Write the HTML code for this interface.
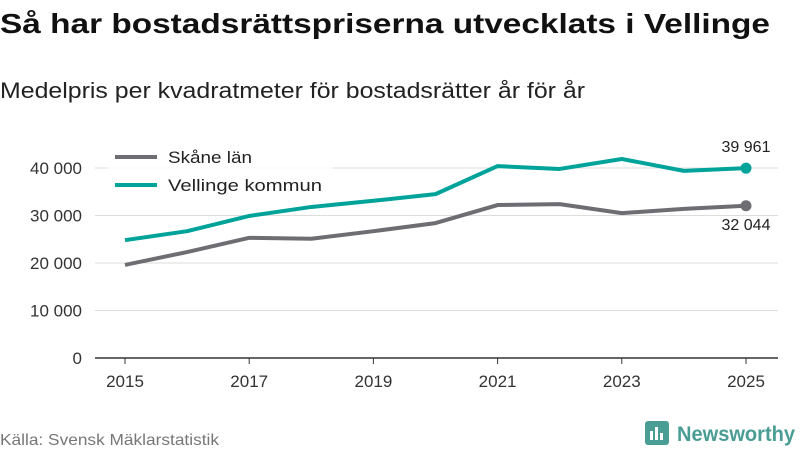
<!DOCTYPE html>
<html><head><meta charset="utf-8"><style>
body{margin:0;width:800px;height:450px;background:#fff;font-family:"Liberation Sans",sans-serif;overflow:hidden}
</style></head><body>
<svg width="800" height="450" xmlns="http://www.w3.org/2000/svg">
<text x="0" y="33" font-size="28" font-weight="bold" fill="#111" textLength="770" lengthAdjust="spacingAndGlyphs">Så har bostadsrättspriserna utvecklats i Vellinge</text>
<text x="0" y="98" font-size="22" fill="#222" textLength="585" lengthAdjust="spacingAndGlyphs">Medelpris per kvadratmeter för bostadsrätter år för år</text>
<g id="grid"></g><g id="lines"></g>
<g>
<rect x="108" y="143" width="225" height="56" fill="#fff" opacity="0.85"/>
<line x1="115" y1="157" x2="157" y2="157" stroke="#6e6d73" stroke-width="4"/>
<text x="168" y="163" font-size="17" fill="#222" textLength="84" lengthAdjust="spacingAndGlyphs">Skåne län</text>
<line x1="115" y1="185" x2="157" y2="185" stroke="#00a39a" stroke-width="4"/>
<text x="168" y="191" font-size="17" fill="#222" textLength="154" lengthAdjust="spacingAndGlyphs">Vellinge kommun</text>
</g>
<text x="0" y="445" font-size="16" fill="#777" textLength="219" lengthAdjust="spacingAndGlyphs">Källa: Svensk Mäklarstatistik</text>
<g>
<rect x="645" y="421" width="24" height="24" rx="3" fill="#4a9d94"/>
<rect x="650" y="431" width="3" height="9" fill="#fff"/><rect x="655" y="427" width="3" height="13" fill="#fff"/><rect x="660" y="433" width="3" height="7" fill="#fff"/>
<text x="677" y="441" font-size="21" font-weight="bold" fill="#4a9d94" textLength="118" lengthAdjust="spacingAndGlyphs">Newsworthy</text>
</g>
</svg>
<script>
const years=[2015,2016,2017,2018,2019,2020,2021,2022,2023,2024,2025];
const skane=[19600,22300,25300,25100,26700,28400,32200,32400,30500,31400,32044];
const vellinge=[24800,26700,29900,31800,33100,34500,40400,39800,41900,39400,39961];
const yTicks=[0,10000,20000,30000,40000];
const xTicks=[2015,2017,2019,2021,2023,2025];
const NS="http://www.w3.org/2000/svg";
const x=v=>125+(v-2015)*62.1;
const y=v=>358-v*0.00475;
const fmt=v=>v.toLocaleString('en-US').replace(/,/g,' ');
function mk(t,a,p){const e=document.createElementNS(NS,t);for(const k in a)e.setAttribute(k,a[k]);p.appendChild(e);return e;}
const grid=document.getElementById('grid'),lines=document.getElementById('lines');
yTicks.forEach(v=>{
const l=mk('line',{x1:95,x2:778,y1:y(v),y2:y(v),stroke:v===0?'#333':'#ddd','stroke-width':v===0?1.5:1},grid);


const t=mk('text',{x:82,y:y(v)+6,'text-anchor':'end','font-size':17,fill:'#333'},grid);t.textContent=fmt(v);


});
xTicks.forEach(v=>{
const l=mk('line',{x1:x(v),x2:x(v),y1:358,y2:364,stroke:'#333'},grid);


const t=mk('text',{x:x(v),y:387,'text-anchor':'middle','font-size':17,fill:'#333'},grid);t.textContent=v;


});
function series(d,c,name,dy){
const p=mk('polyline',{points:d.map((v,i)=>x(years[i])+','+y(v)).join(' '),fill:'none',stroke:c,'stroke-width':4,'stroke-linejoin':'round'},lines);


const n=d.length-1;
const ci=mk('circle',{cx:x(years[n]),cy:y(d[n]),r:5.5,fill:c},lines);


const t=mk('text',{x:x(years[n]),y:y(d[n])+dy,'text-anchor':'middle','font-size':16,fill:'#222'},lines);t.textContent=fmt(d[n]);


}
series(skane,'#6e6d73','skane',24);
series(vellinge,'#00a39a','vellinge',-16);
</script>
</body></html>
